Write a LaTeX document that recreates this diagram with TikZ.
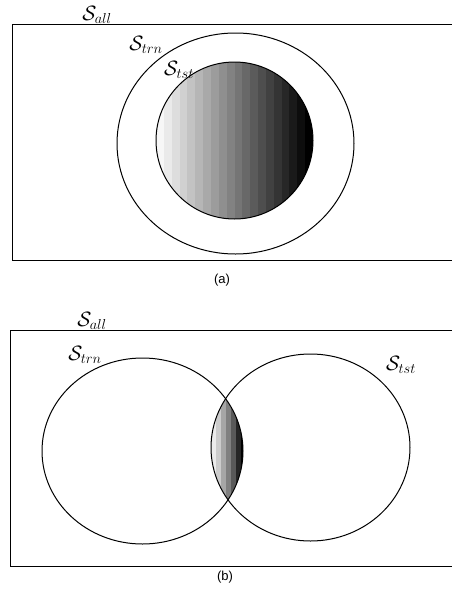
\documentclass[tikz,border=0pt]{standalone}
\usepackage{fontspec}
\newfontfamily\capfont{Liberation Sans}
\begin{document}
\begin{tikzpicture}[x=1pt,y=-1pt,
  setlabel/.style={inner sep=0pt,font=\fontsize{22}{25}\selectfont},
  caplabel/.style={inner sep=0pt,font=\capfont\fontsize{13}{15}\selectfont},
  outline/.style={draw=black,line width=1pt}]
\useasboundingbox (0,0) rectangle (451,597);
% ---------- (a) ----------
\begin{scope}
  \clip (234.5,140.5) circle[radius=78.5];
  \foreach \i in {0,...,19}{
    \pgfmathsetmacro{\g}{97-\i*97/19}
    \fill[fill=white!\g!black] (156+\i*7.85,60) rectangle (156+\i*7.85+8.2,222);
  }
\end{scope}
\draw[outline] (12,24) rectangle (470,260);
\draw[outline] (235.5,143.5) ellipse[x radius=118.5,y radius=110.5];
\draw[outline] (234.5,140.5) circle[radius=78.5];
\node[setlabel] (alla) at (97,14.5) {$\mathcal{S}_{all}$};
\node[setlabel] (trna) at (146,45) {$\mathcal{S}_{trn}$};
\node[setlabel] (tsta) at (179,70) {$\mathcal{S}_{tst}$};
\node[caplabel] (capa) at (222,280) {(a)};
% ---------- (b) ----------
\begin{scope}
  \clip (142.5,451) ellipse[x radius=100.5,y radius=93];
  \clip (310.5,447.5) ellipse[x radius=99.5,y radius=93.5];
  \foreach \i/\g in {0/92,1/80,2/65,3/50,4/35,5/15,6/0}{
    \fill[fill=white!\g!black] (211+\i*5,390) rectangle (211+\i*5+5.3,510);
  }
\end{scope}
\draw[outline] (10,330) rectangle (470,566);
\draw[outline] (142.5,451) ellipse[x radius=100.5,y radius=93];
\draw[outline] (310.5,447.5) ellipse[x radius=99.5,y radius=93.5];
\node[setlabel] (allb) at (92,321) {$\mathcal{S}_{all}$};
\node[setlabel] (trnb) at (85,355) {$\mathcal{S}_{trn}$};
\node[setlabel] (tstb) at (401,365) {$\mathcal{S}_{tst}$};
\node[caplabel] (capb) at (225,577) {(b)};
\end{tikzpicture}
\end{document}
